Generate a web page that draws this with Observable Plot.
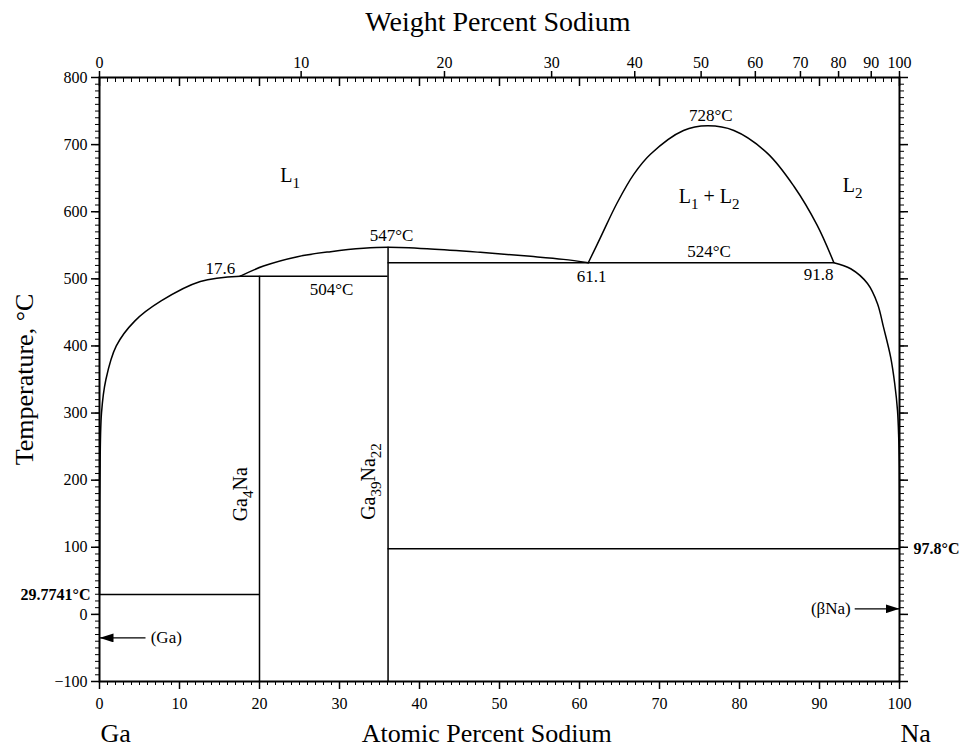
<!DOCTYPE html>
<html>
<head>
<meta charset="utf-8">
<script src="https://cdn.jsdelivr.net/npm/d3@7"></script>
<script src="https://cdn.jsdelivr.net/npm/@observablehq/plot@0.6"></script>
<style>
  body { margin: 0; background: #fff; }
  #chart svg { display: block; }
</style>
</head>
<body>
<div id="chart"></div>
<script>
// ---------- data ----------
const GA_MASS = 69.723, NA_MASS = 22.99;

// Ga-rich liquidus [at.% Na, °C]
const gaLiquidus = [[0, 29.7741], [0.02, 100], [0.06, 200], [0.25, 300], [0.8, 350], [2.1, 400], [4.4, 437], [7.7, 467], [12.6, 496], [17.6, 504]];
// Ga39Na22 liquidus (congruent maximum 547 °C)
const midLiquidus = [[17.6, 504], [20.5, 519], [24.75, 533], [28.9, 540.5], [33.0, 545.5], [36.07, 547], [41.4, 544.5], [47.6, 539.5], [53.9, 533.5], [58.0, 529], [61.1, 524]];
// Miscibility gap dome (max 728 °C)
const dome = [[61.1, 524], [62.6, 561], [64.7, 613], [66.8, 656], [68.9, 686], [73.0, 721], [76.0, 728], [79.3, 721], [83.5, 687], [86.8, 638], [89.7, 580], [91.8, 524]];
// Na-rich liquidus
const naLiquidus = [[91.8, 524], [93.9, 515], [96.0, 493], [97.25, 463], [98.0, 428], [98.9, 383], [99.4, 344], [99.75, 304], [99.9, 264], [99.98, 219], [100, 150], [100, 97.8]];

// invariant horizontals
const isotherms = [
  {T: 504, from: 17.6, to: 36.07},
  {T: 524, from: 36.07, to: 91.8},
  {T: 97.8, from: 36.07, to: 100},
  {T: 29.7741, from: 0, to: 20}
];
// compounds (vertical lines)
const compounds = [
  {at: 20, Tmax: 504, name: "Ga_4Na", labelAt: 17.6, labelT: 179},
  {at: 36.07, Tmax: 547, name: "Ga_39Na_22", labelAt: 33.6, labelT: 198}
];

// ticks
const atMajor = [0, 10, 20, 30, 40, 50, 60, 70, 80, 90, 100];
const atMinor = d3.range(0, 101, 1);
const tempMajor = [-100, 0, 100, 200, 300, 400, 500, 600, 700, 800];
const tempMinor = d3.range(-100, 801, 10);
const wtTicks = [0, 10, 20, 30, 40, 50, 60, 70, 80, 90, 100];

// annotations
const phaseLabels = [
  {x: 22.6, T: 654, text: "L_1"},
  {x: 92.9, T: 639, text: "L_2"}
];
const domeLabel = [{x: 76.2, T: 623, text: "L_1 + L_2"}];
const pointLabels = [
  {x: 76.4, T: 743.5, text: "728°C"},
  {x: 36.5, T: 565, text: "547°C"},
  {x: 15.1, T: 516, text: "17.6"},
  {x: 29.0, T: 484, text: "504°C"},
  {x: 76.2, T: 540, text: "524°C"},
  {x: 61.5, T: 503, text: "61.1"},
  {x: 89.9, T: 506.5, text: "91.8"}
];
const leftArrowLabel = [{x: 6.4, T: -35, text: "(Ga)"}];
const rightArrowLabel = [{x: 93.9, T: 8.3, text: "(βNa)"}];
const leftBold = [{x: 0, T: 29.7741, text: "29.7741°C"}];
const rightBold = [{x: 100, T: 97.8, text: "97.8°C"}];
const arrows = [
  {from: 5.75, to: 0, T: -35},
  {from: 94.4, to: 100, T: 8.3}
];

// ---------- helpers ----------
const wtToAt = w => { const na = w / NA_MASS, ga = (100 - w) / GA_MASS; return 100 * na / (na + ga); };
const wtPos = wtTicks.map(wtToAt);
const wtLabel = new Map(wtTicks.map(w => [wtToAt(w), String(w)]));
const FONT = "Liberation Serif, Times New Roman, serif";
const line = (data, curve = "catmull-rom") => Plot.line(data, {x: d => d[0], y: d => d[1], curve, stroke: "black", strokeWidth: 1.5});
const label = (data, opts) => Plot.text(data, {x: d => d.x, y: d => d.T, text: d => d.text, fill: "black", lineAnchor: "middle", ...opts});

const svg = Plot.plot({
  width: 962, height: 748,
  marginLeft: 99, marginRight: 63, marginTop: 77, marginBottom: 67,
  x: {domain: [0, 100]},
  y: {domain: [-100, 800]},
  style: {fontFamily: FONT, fontSize: "16px", color: "black", background: "white"},
  marks: [
    // phase boundaries
    line(gaLiquidus),
    line(midLiquidus),
    line(dome),
    line(naLiquidus),
    Plot.ruleY(isotherms, {y: d => d.T, x1: d => d.from, x2: d => d.to, stroke: "black", strokeWidth: 1.5}),
    Plot.ruleX(compounds, {x: d => d.at, y1: -100, y2: d => d.Tmax, stroke: "black", strokeWidth: 1.5}),
    Plot.link(arrows, {x1: d => d.from, x2: d => d.to, y1: d => d.T, y2: d => d.T, stroke: "black", strokeWidth: 1.2, markerEnd: "arrow"}),
    // frame
    Plot.frame({stroke: "black", strokeWidth: 2}),
    // bottom axis (atomic %)
    Plot.axisX(atMajor, {anchor: "bottom", tickSize: 8, tickPadding: 8, fontSize: 16, label: null, strokeWidth: 1.5}),
    Plot.axisX(atMinor, {anchor: "bottom", tickSize: 4, fill: "none", label: null}),
    // top axis: weight % outward, atomic % inward
    Plot.axisX(wtPos, {anchor: "top", tickSize: 7, tickPadding: 3, fontSize: 16, label: null, strokeWidth: 1.5, tickFormat: d => wtLabel.get(d)}),
    Plot.axisX(atMajor, {anchor: "top", tickSize: -8, fill: "none", label: null, strokeWidth: 1.5}),
    Plot.axisX(atMinor, {anchor: "top", tickSize: -4, fill: "none", label: null}),
    // left & right temperature axes
    Plot.axisY(tempMajor, {anchor: "left", tickSize: 8, tickPadding: 4, fontSize: 16, label: null, strokeWidth: 1.5}),
    Plot.axisY(tempMinor, {anchor: "left", tickSize: 4, fill: "none", label: null}),
    Plot.axisY(tempMajor, {anchor: "right", tickSize: 8, fill: "none", label: null, strokeWidth: 1.5}),
    Plot.axisY(tempMinor, {anchor: "right", tickSize: 4, fill: "none", label: null}),
    // annotations
    label(phaseLabels, {textAnchor: "start", fontSize: 20}),
    label(domeLabel, {textAnchor: "middle", fontSize: 20}),
    label(pointLabels, {textAnchor: "middle", fontSize: 17}),
    label(leftArrowLabel, {textAnchor: "start", fontSize: 17}),
    label(rightArrowLabel, {textAnchor: "end", fontSize: 17}),
    label(leftBold, {textAnchor: "end", dx: -9, fontSize: 16, fontWeight: "bold"}),
    label(rightBold, {textAnchor: "start", dx: 14, fontSize: 16, fontWeight: "bold"}),
    Plot.text(compounds, {x: d => d.labelAt, y: d => d.labelT, text: d => d.name, rotate: -90, textAnchor: "middle", lineAnchor: "middle", fontSize: 20, fill: "black"}),
    // axis titles
    Plot.text([{x: 49.8, t: "Weight Percent Sodium"}], {x: "x", text: "t", frameAnchor: "top", dy: -55, lineAnchor: "middle", textAnchor: "middle", fontSize: 28, fill: "black"}),
    Plot.text([{x: 48.4, t: "Atomic Percent Sodium"}], {x: "x", text: "t", frameAnchor: "bottom", dy: 52, lineAnchor: "middle", textAnchor: "middle", fontSize: 26, fill: "black"}),
    Plot.text([{x: 0, t: "Ga"}, {x: 100, t: "Na"}], {x: "x", text: "t", frameAnchor: "bottom", dy: 52, dx: 1, lineAnchor: "middle", textAnchor: "start", fontSize: 26, fill: "black"}),
    Plot.text(["Temperature, °C"], {frameAnchor: "left", dx: -75, rotate: -90, lineAnchor: "middle", textAnchor: "middle", fontSize: 26, fill: "black"})
  ]
});

// filled arrowheads
d3.select(svg).selectAll("marker")
  .attr("viewBox", "-14 -4.5 14 9")
  .attr("markerWidth", 14).attr("markerHeight", 9)
  .attr("markerUnits", "userSpaceOnUse")
  .attr("refX", 0).attr("refY", 0)
  .attr("fill", "black").attr("stroke", "none")
  .selectAll("path").attr("d", "M-14,-4.5L0,0L-14,4.5Z");

// subscripts: "_digits" -> lowered, smaller tspan
const NS = "http://www.w3.org/2000/svg";
const SUB_SHIFT = 6, SUB_SIZE = 15;
d3.select(svg).selectAll("text").each(function () {
  const s = this.textContent;
  if (!s.includes("_")) return;
  const parts = s.split(/_(\d+)/);
  while (this.firstChild) this.removeChild(this.firstChild);
  let shifted = false;
  parts.forEach((p, i) => {
    if (p === "") return;
    const isSub = i % 2 === 1;
    const ts = document.createElementNS(NS, "tspan");
    if (isSub && !shifted) { ts.setAttribute("dy", SUB_SHIFT); shifted = true; }
    if (!isSub && shifted) { ts.setAttribute("dy", -SUB_SHIFT); shifted = false; }
    if (isSub) ts.setAttribute("font-size", SUB_SIZE);
    ts.textContent = p;
    this.appendChild(ts);
  });
});

document.getElementById("chart").appendChild(svg);
</script>
</body>
</html>
